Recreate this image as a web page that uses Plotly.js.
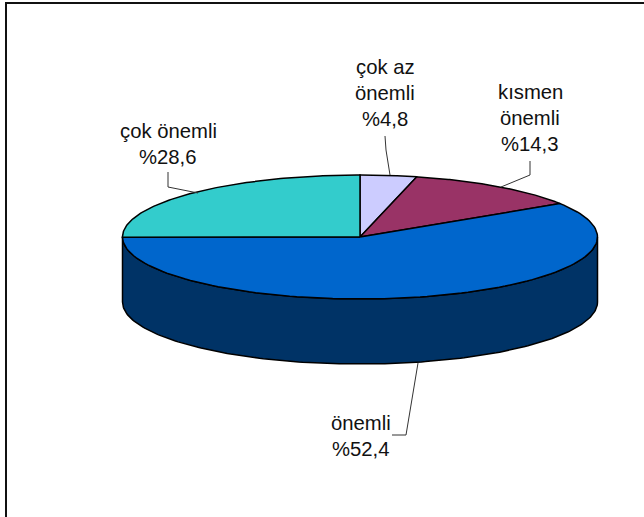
<!DOCTYPE html>
<html>
<head>
<meta charset="utf-8">
<script src="https://cdn.plot.ly/plotly-3.0.1.min.js"></script>
<style>html,body{margin:0;padding:0;background:#fff}</style>
</head>
<body>
<div id="chart" style="width:644px;height:517px"></div>
<script>
// Survey shares, clockwise from twelve o'clock
const categories = ["çok az önemli", "kısmen önemli", "önemli", "çok önemli"];
const shares = [4.8, 14.3, 52.4, 28.6];
const shareLabels = ["%4,8", "%14,3", "%52,4", "%28,6"];
const sliceColors = ["#CCCCFF", "#993366", "#0066CC", "#33CCCC"];
const wallColor = "#003366";

// Disc geometry on a page-sized coordinate plane
const cx = 360, cy = 237, rx = 237.5, ry = 62, depth = 65;
// Viewing the tilted disc in perspective squeezes the angles seen on the ellipse
const perspective = 0.8;
const rad = Math.PI / 180;

function viewAngle(deg) {
  if (deg === 0 || deg === 360) return deg;
  if (deg === 180) return 180;
  let a = 2 * Math.atan(perspective * Math.tan(deg * rad / 2)) / rad;
  return a < 0 ? a + 360 : a;
}
function rim(deg, dy) {
  const a = deg * rad;
  return [cx + rx * Math.sin(a), cy - ry * Math.cos(a) + (dy || 0)];
}

const traces = [];

// Side wall: the front half of the rim swept down by the disc depth
const wall = { x: [], y: [] };
for (let d = 90; d <= 270; d += 1) { const p = rim(d); wall.x.push(p[0]); wall.y.push(p[1]); }
for (let d = 270; d >= 90; d -= 1) { const p = rim(d, depth); wall.x.push(p[0]); wall.y.push(p[1]); }
wall.x.push(wall.x[0]); wall.y.push(wall.y[0]);
traces.push({
  type: "scatter", mode: "lines", x: wall.x, y: wall.y, fill: "toself",
  fillcolor: wallColor, line: { color: "#000", width: 1.5 }, hoverinfo: "skip"
});

// Top face slices
let running = 0;
const total = shares.reduce((s, v) => s + v, 0);
shares.forEach((v, i) => {
  const start = viewAngle(running / total * 360);
  running += v;
  const end = viewAngle(running / total * 360);
  const xs = [cx], ys = [cy];
  for (let k = 0; k <= 120; k++) {
    const p = rim(start + (end - start) * k / 120);
    xs.push(p[0]); ys.push(p[1]);
  }
  xs.push(cx); ys.push(cy);
  traces.push({
    type: "scatter", mode: "lines", x: xs, y: ys, fill: "toself", name: categories[i],
    fillcolor: sliceColors[i], line: { color: "#000", width: 1.5 }, hoverinfo: "name"
  });
});

// Leader lines from the labels to the disc
const leaders = [
  { x: [385, 386, 390], y: [136, 150, 175] },
  { x: [530, 530, 501], y: [161, 175, 187] },
  { x: [392, 406, 418], y: [435, 435, 363] },
  { x: [168, 168, 198], y: [172, 187, 193] }
];
leaders.forEach(l => traces.push({
  type: "scatter", mode: "lines", x: l.x, y: l.y,
  line: { color: "#333", width: 1 }, hoverinfo: "skip"
}));

// Label text, one row per line of the data label
const labelRows = [
  { x: 385, y: [67, 93, 119], text: ["çok az", "önemli", shareLabels[0]] },
  { x: 530, y: [92, 118, 144], text: ["kısmen", "önemli", shareLabels[1]] },
  { x: 360.5, y: [423, 449], text: ["önemli", shareLabels[2]] },
  { x: 168, y: [131, 157], text: ["çok önemli", shareLabels[3]] }
];
const annotations = [];
labelRows.forEach(g => g.text.forEach((t, i) => annotations.push({
  x: g.x, y: g.y[i], xref: "x", yref: "y", text: t, showarrow: false,
  xanchor: "center", yanchor: "middle",
  font: { family: "Liberation Sans, Arial, sans-serif", size: 20.3, color: "#111" }
})));

Plotly.newPlot("chart", traces, {
  width: 644, height: 517, showlegend: false,
  margin: { l: 0, r: 0, t: 0, b: 0 },
  paper_bgcolor: "#fff", plot_bgcolor: "#fff",
  xaxis: { range: [0, 644], visible: false, fixedrange: true },
  yaxis: { range: [517, 0], visible: false, fixedrange: true },
  annotations,
  shapes: [
    { type: "rect", xref: "x", yref: "y", x0: 6, y0: 3, x1: 660, y1: 530,
      line: { color: "#111", width: 2 }, fillcolor: "rgba(0,0,0,0)" }
  ]
}, { displayModeBar: false, responsive: false });
</script>
</body>
</html>
